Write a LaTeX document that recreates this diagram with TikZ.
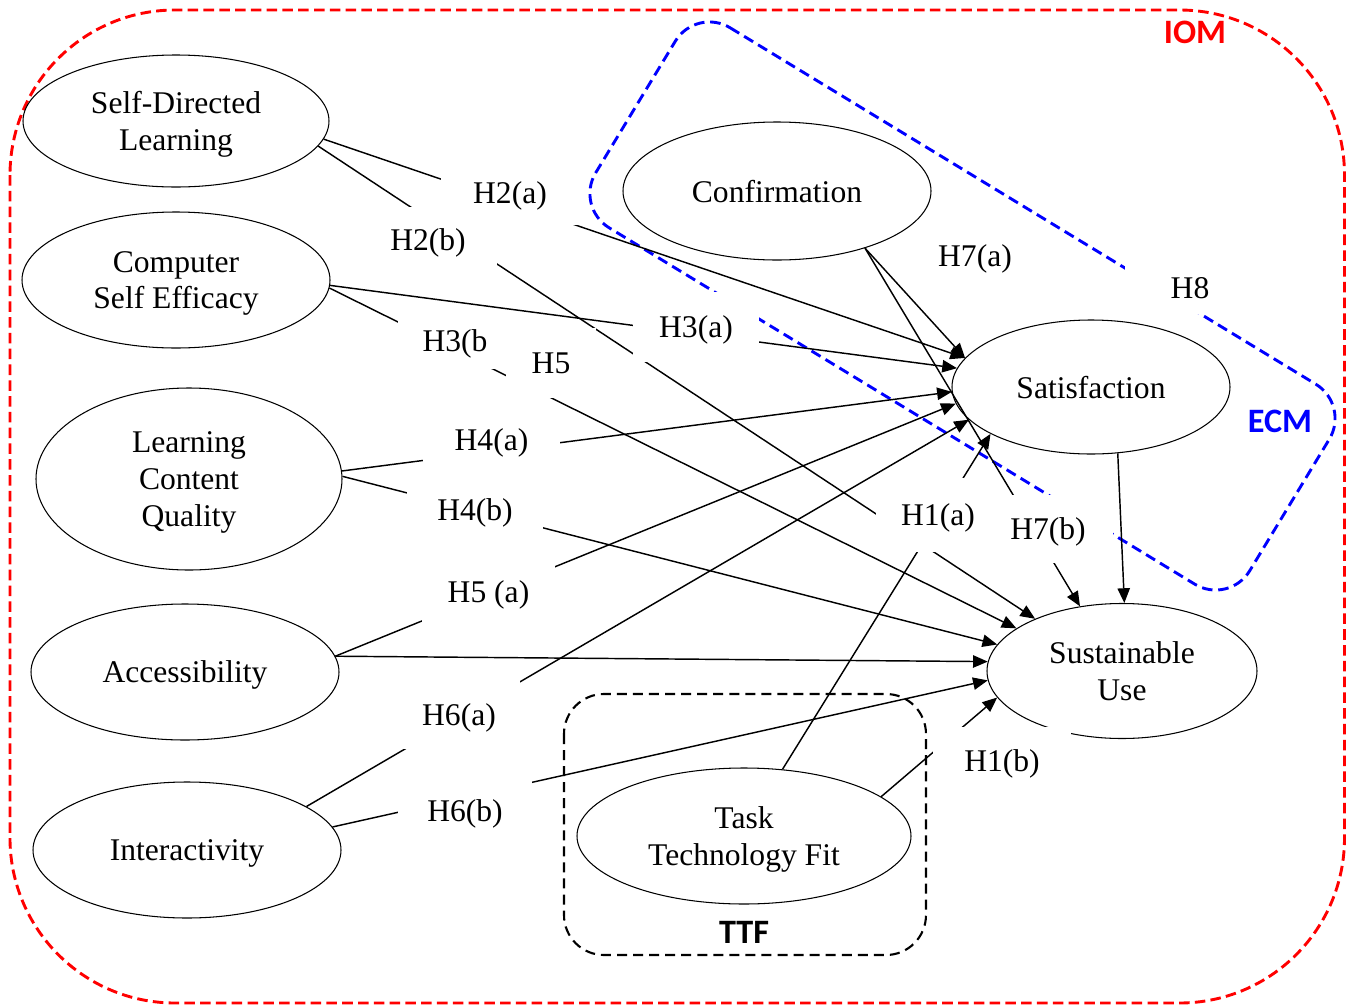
\documentclass[tikz,border=0pt]{standalone}
\usepackage{fontspec}
\setmainfont{Liberation Serif}
\newfontfamily\grpfont{Carlito}
\usetikzlibrary{arrows.meta,shapes.geometric}
\newdimen\pxu \pxu=0.38pt

\begin{document}
\begin{tikzpicture}[x=0.38pt,y=-0.38pt,every node/.style={font=\fontsize{12}{14}\selectfont,text depth=0pt},
  construct/.style={draw,ellipse,line width=0.4pt,inner sep=0pt,align=center},
  hyp/.style={fill=white,inner sep=0pt},
  link/.style={line width=0.55pt,-{Triangle[length=5.6pt,width=4.7pt]}},
  grp/.style={font=\grpfont\bfseries\fontsize{13}{15}\selectfont}]
\useasboundingbox (0,0) rectangle (1346,1005);
% model boundaries
\draw[red,line width=1.1pt,dash pattern=on 4pt off 2pt,rounded corners=165\pxu] (10,10) rectangle (1344.5,1003);
\draw[blue,line width=1.1pt,dash pattern=on 4pt off 2.2pt,rounded corners=40\pxu] (696,7) -- (1350,405) -- (1229,605) -- (575,207) -- cycle;
\draw[line width=0.8pt,dash pattern=on 3.8pt off 2.3pt,rounded corners=40\pxu] (564,694) rectangle (926,955);
\node[grp,text=red] (iom) at (1195,32) {IOM};
\node[grp,text=blue] (ecm) at (1280,421) {ECM};
\node[grp] (ttflbl) at (744,932) {TTF};
% constructs
\node[construct,minimum width=306\pxu,minimum height=132\pxu] (sdl) at (176,121) {Self-Directed\\Learning};
\node[construct,minimum width=308\pxu,minimum height=136\pxu] (cse) at (176,280) {Computer\\Self Efficacy};
\node[construct,minimum width=306\pxu,minimum height=182\pxu] (lcq) at (189,479) {Learning\\Content\\Quality};
\node[construct,minimum width=308\pxu,minimum height=136\pxu] (acc) at (185,672) {Accessibility};
\node[construct,minimum width=308\pxu,minimum height=136\pxu] (inter) at (187,850) {Interactivity};
\node[construct,minimum width=308\pxu,minimum height=138\pxu] (conf) at (777,191) {Confirmation};
\node[construct,minimum width=278\pxu,minimum height=134\pxu] (sat) at (1091,387) {Satisfaction};
\node[construct,minimum width=270\pxu,minimum height=135\pxu] (su) at (1122,671) {Sustainable\\Use};
\node[construct,minimum width=334\pxu,minimum height=136\pxu] (ttf) at (744,836) {Task\\Technology Fit};
% paths
\draw[link] (sdl.-7) -- (sat.167);
\draw[link] (sdl.-10) -- (su.149);
\draw[link] (cse.-2) -- (sat.172);
\draw[link] (cse.-3) -- (su.158);
\draw[link] (lcq.3) -- (sat.182);
\draw[link] (lcq.1) -- (su.168);
\draw[link] (acc.6) -- (sat.187);
\draw[link] (acc.6) -- (su.176);
\draw[link] (inter.20) -- (sat.195);
\draw[link] (inter.9.5) -- (su.184);
\draw[link] (conf.-33) -- (sat.167);
\draw[link] (conf.-33) -- (su.123);
\draw[link] (ttf.60) -- (sat.205);
\draw[link] (ttf.16) -- (su.192);
\draw[link] (sat.-68) -- (su.88);
% hypothesis labels
\node[hyp,minimum width=138\pxu,minimum height=64\pxu] (h2a) at (510,193) {H2(a)};
\node[hyp,minimum width=138\pxu,minimum height=66\pxu] (h2b) at (428,240) {H2(b)};
\node[hyp,minimum width=114\pxu,minimum height=56\pxu] (h3b) at (455,341) {H3(b};
\node[hyp,minimum width=90\pxu,minimum height=70\pxu] (h5) at (551,363) {H5};
\node[hyp,minimum width=126\pxu,minimum height=70\pxu] (h3a) at (696,327) {H3(a)};
\node[hyp,minimum width=137\pxu,minimum height=56\pxu] (h4a) at (491.5,440) {H4(a)};
\node[hyp,minimum width=136\pxu,minimum height=52\pxu] (h4b) at (475,510) {H4(b)};
\node[hyp,minimum width=133\pxu,minimum height=64\pxu] (h5a) at (488.5,592) {H5 (a)};
\node[hyp,minimum width=122\pxu,minimum height=68\pxu] (h6a) at (459,715) {H6(a)};
\node[hyp,minimum width=134\pxu,minimum height=72\pxu] (h6b) at (465,811) {H6(b)};
\node[hyp,inner sep=3pt] (h7a) at (975,256) {H7(a)};
\node[hyp,minimum width=130\pxu,minimum height=52\pxu] (h8) at (1190,288) {H8};
\node[hyp,minimum width=124\pxu,minimum height=74\pxu] (h1a) at (938,515) {H1(a)};
\node[hyp,minimum width=130\pxu,minimum height=68\pxu] (h7b) at (1048,529) {H7(b)};
\node[hyp,minimum width=138\pxu,minimum height=68\pxu] (h1b) at (1002,761) {H1(b)};
\end{tikzpicture}
\end{document}
